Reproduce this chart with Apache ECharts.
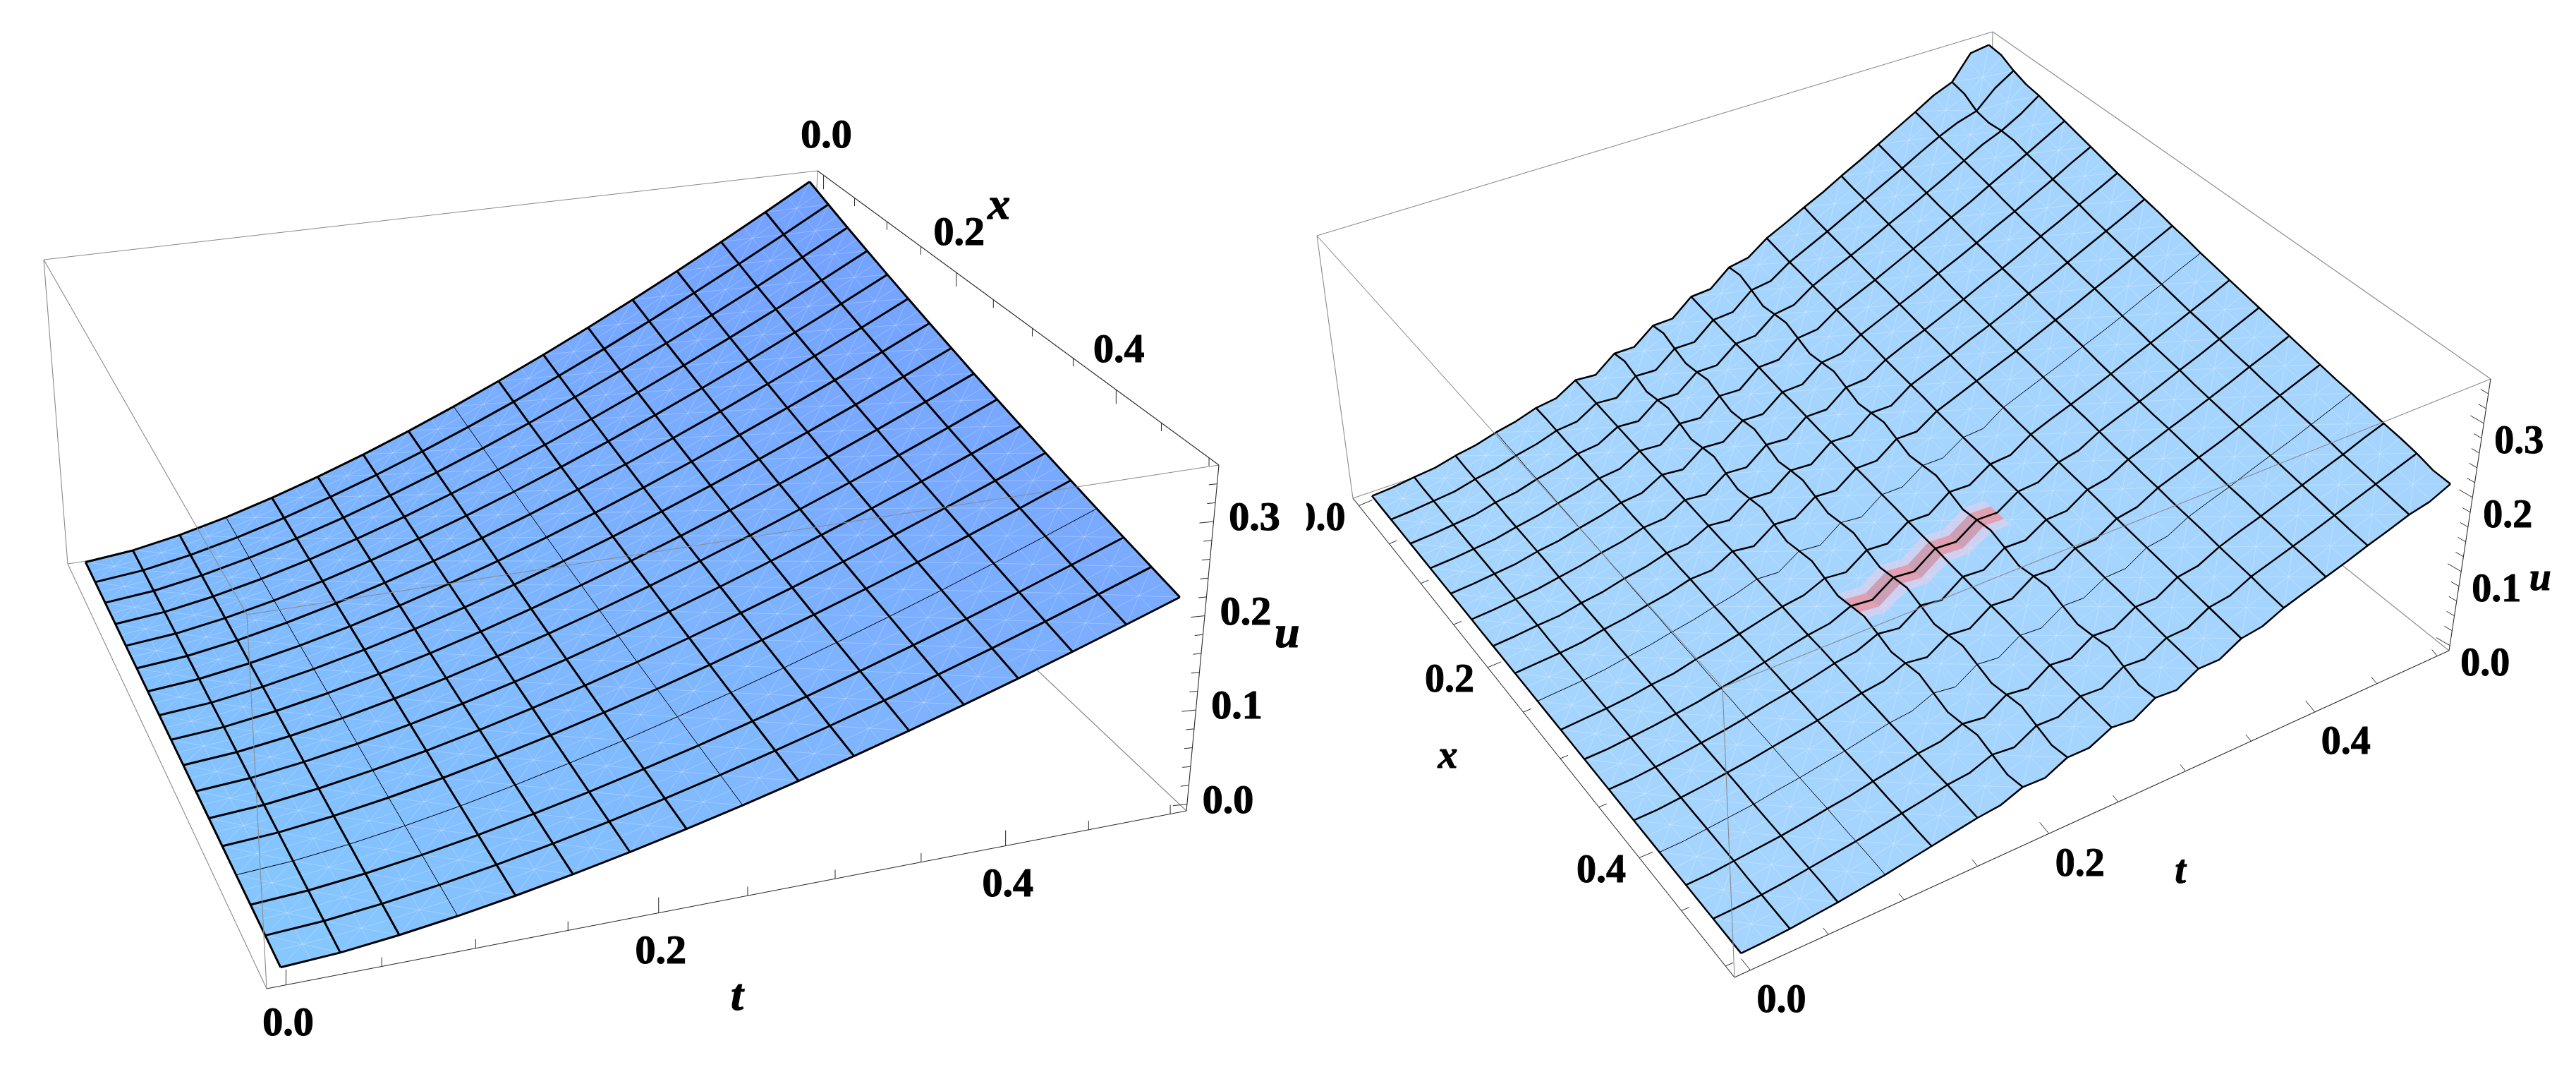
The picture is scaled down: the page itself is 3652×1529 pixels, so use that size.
<!DOCTYPE html>
<html><head><meta charset="utf-8">
<style>html,body{margin:0;padding:0;background:#fff}#c{width:3652px;height:1529px}</style>
<script src="https://cdn.jsdelivr.net/npm/echarts@6/dist/echarts.min.js"></script>
</head><body><div id="c"></div>
<script>
// ---- values (u in thousandths; rows: t index, columns: x index) ----
const tickLabelsT = ["0.0","0.2","0.4"];
const tickLabelsX = ["0.0","0.2","0.4"];
const tickLabelsU = ["0.0","0.1","0.2","0.3"];
const exactU = [
[0,0,0,0,0,0,0,0,0,0,0,0,0,0,0,0,0],
[5.5,5.4,5.2,5.0,4.9,4.7,4.6,4.4,4.3,4.2,4.0,3.9,3.8,3.7,3.6,3.5,3.3],
[15.6,15.1,14.7,14.2,13.8,13.4,13.0,12.6,12.2,11.8,11.4,11.1,10.7,10.4,10.1,9.8,9.5],
[28.7,27.8,27.0,26.1,25.3,24.6,23.8,23.1,22.4,21.7,21.0,20.4,19.7,19.1,18.5,18.0,17.4],
[44.2,42.8,41.5,40.2,39.0,37.8,36.6,35.5,34.4,33.4,32.3,31.3,30.4,29.4,28.5,27.7,26.8],
[61.8,59.9,58.0,56.2,54.5,52.8,51.2,49.6,48.1,46.6,45.2,43.8,42.5,41.1,39.9,38.7,37.5],
[81.2,78.7,76.3,73.9,71.6,69.4,67.3,65.2,63.2,61.3,59.4,57.6,55.8,54.1,52.4,50.8,49.2],
[102.3,99.2,96.1,93.2,90.3,87.5,84.8,82.2,79.7,77.2,74.9,72.5,70.3,68.1,66.1,64.0,62.1],
[125,121.2,117.4,113.8,110.3,106.9,103.6,100.4,97.4,94.4,91.5,88.6,85.9,83.3,80.7,78.2,75.8],
[149.2,144.6,140.1,135.8,131.6,127.6,123.7,119.8,116.2,112.6,109.1,105.8,102.5,99.4,96.3,93.3,90.5],
[174.7,169.3,164.1,159.1,154.2,149.4,144.8,140.4,136.0,131.9,127.8,123.9,120.1,116.4,112.8,109.3,105.9],
[201.6,195.3,189.3,183.5,177.9,172.4,167.1,161.9,157.0,152.1,147.5,142.9,138.5,134.3,130.1,126.1,122.2],
[229.6,222.6,215.7,209.1,202.7,196.4,190.4,184.5,178.8,173.3,168.0,162.8,157.8,153.0,148.3,143.7,139.3],
[258.9,251.0,243.2,235.8,228.5,221.5,214.7,208.1,201.7,195.4,189.4,183.6,178.0,172.5,167.2,162.0,157.0],
[289.4,280.5,271.8,263.5,255.4,247.5,239.9,232.5,225.4,218.4,211.7,205.2,198.9,192.8,186.8,181.1,175.5],
[321.0,311.1,301.5,292.2,283.2,274.5,266.1,257.9,250.0,242.3,234.8,227.6,220.6,213.8,207.2,200.9,194.7],
[353.6,342.7,332.1,321.9,312.0,302.4,293.1,284.1,275.3,266.9,258.7,250.7,243.0,235.5,228.3,221.3,214.4]
];
const numericU = [
[0,0,0,0,0,0,0,0,0,0,0,0,0,0,0,0,0,0,0,0,0,0,0,0,0,0,0,0,0,0,0,0,0],
[2,2,2,2,2,2,2,2,2,2,2,2,2,2,2,2,2,2,2,2,1,1,1,1,1,1,1,1,1,1,1,1,1],
[6,5,5,5,5,5,5,5,5,5,5,5,5,4,4,4,4,4,4,4,4,4,4,4,4,4,4,4,4,3,3,3,3],
[9,8,8,8,8,8,8,8,8,8,8,8,7,7,7,7,7,7,7,7,7,7,7,7,7,7,7,7,7,6,6,6,6],
[16,15,15,15,15,14,14,14,14,14,13,13,13,13,13,12,12,12,12,12,11,11,11,11,11,11,10,10,10,10,10,10,9],
[21,20,20,20,19,19,19,19,18,18,18,17,17,17,17,16,16,16,15,15,15,15,15,15,15,15,15,14,14,14,14,13,13],
[29,28,28,27,27,27,26,26,25,25,25,24,24,23,23,23,22,22,22,21,21,21,20,20,20,19,19,19,19,18,18,18,17],
[35,35,34,34,33,32,32,31,31,30,30,29,29,29,28,28,27,27,27,27,26,26,26,25,25,24,24,24,23,23,23,22,22],
[44,44,43,42,42,41,40,40,39,38,38,37,37,36,36,35,34,34,33,33,32,32,31,31,30,30,29,29,29,28,28,27,27],
[48,47,46,45,45,44,43,42,42,41,40,39,39,38,37,38,40,40,40,39,39,38,37,37,36,36,35,35,34,33,33,32,32],
[64,63,62,61,60,59,58,57,57,56,55,54,53,52,52,51,49,48,47,46,45,45,44,43,42,42,41,41,40,39,39,38,37],
[62,61,60,59,58,57,56,55,54,53,52,51,50,49,48,47,47,52,51,50,49,48,48,47,46,45,44,44,43,42,42,41,40],
[83,87,81,74,78,82,76,70,74,78,71,65,69,73,67,61,65,69,63,57,61,65,60,54,58,62,56,50,54,59,53,47,51],
[83,81,80,78,77,76,74,73,72,70,69,68,67,66,65,63,62,61,60,59,58,57,56,55,54,53,52,51,50,49,50,50,50],
[104,108,101,95,98,102,95,89,92,96,90,83,87,90,84,78,82,85,79,73,77,81,75,68,72,76,70,64,68,72,66,60,64],
[105,103,101,99,98,96,94,93,91,90,88,87,85,84,82,81,79,78,77,75,74,73,71,70,69,68,67,65,64,65,65,65,64],
[127,125,123,121,119,118,116,114,112,111,109,107,106,104,102,101,99,98,96,95,94,92,91,89,88,87,85,84,83,81,80,79,78],
[129,127,125,123,121,119,117,115,113,111,109,107,105,104,102,100,99,97,95,94,92,91,89,88,86,85,83,82,80,79,78,76,75],
[151,154,147,139,142,145,138,131,134,137,130,123,126,129,122,115,118,121,115,108,111,114,108,101,105,108,101,95,98,102,95,89,92],
[156,153,151,148,146,144,141,139,137,135,132,130,126,124,122,120,118,116,114,112,110,109,107,105,103,101,100,98,96,95,93,92,90],
[175,172,169,167,164,162,159,157,154,152,149,147,145,143,140,138,136,134,132,130,128,126,124,122,120,118,116,115,113,111,109,108,106],
[188,185,182,179,177,174,171,169,166,163,161,158,156,153,151,148,138,136,134,132,130,127,125,123,121,119,117,115,113,111,110,108,106],
[202,198,195,192,189,186,183,181,178,175,172,170,167,164,162,159,157,154,152,150,147,145,143,141,138,136,134,132,130,128,126,124,122],
[215,212,209,206,202,199,196,193,190,187,184,181,179,176,173,170,168,165,163,160,153,150,148,145,143,141,138,136,134,132,130,128,126],
[230,226,223,219,216,212,209,206,203,199,196,193,190,187,184,182,179,176,173,171,168,165,163,160,158,155,153,151,148,146,144,141,139],
[244,240,237,233,229,226,222,219,215,212,209,206,202,199,196,193,190,187,184,181,179,176,173,170,168,165,163,160,158,155,153,150,148],
[259,255,251,247,243,239,236,232,228,225,221,218,215,211,208,205,202,198,195,192,189,186,184,181,178,175,172,170,167,165,162,160,157],
[274,270,266,261,257,253,249,246,242,238,234,231,227,224,220,217,213,210,207,204,200,197,194,191,188,185,183,180,177,174,171,169,166],
[289,285,280,276,272,268,264,259,255,251,248,244,240,236,233,229,225,222,218,215,212,208,205,202,199,196,193,190,187,184,181,178,176],
[305,300,292,289,287,282,278,273,269,265,261,257,253,249,245,241,238,234,230,227,223,220,216,213,210,206,203,200,197,194,191,188,185],
[316,312,300,296,298,297,292,288,283,279,275,270,266,262,258,254,250,246,242,239,235,231,228,224,221,217,214,211,207,204,201,198,195],
[350,344,325,312,313,312,307,302,298,293,288,284,279,275,271,267,263,258,254,250,247,243,239,235,232,228,225,221,218,214,211,205,201],
[354,352,342,335,332,327,322,317,312,307,302,298,293,289,284,280,275,271,267,263,259,255,251,247,243,239,236,232,228,225,221,215,214]
];
const tMajorTicks = [0,0.2,0.4];
const tMinorTicks = [0.05,0.1,0.15,0.25,0.3,0.35,0.45,0.5];
const uMajorTicks = [0,0.1,0.2,0.3];
const uMinorTicks = [0.02,0.04,0.06,0.08,0.12,0.14,0.16,0.18,0.22,0.24,0.26,0.28,0.32,0.34];
const redRidgeRows = [12,13,14,15,16,17,18,19];
const redRidgeColumn = 20;

// ---- layout of the two boxes on the page ----
const SPAN = [-0.01,0.51], USPAN = [-0.007,0.36], UNIT = 1000;
const leftBox = {
  top:{A:[62,368],B:[1159,242],C:[1728,659],D:[350,871]},
  bot:{A:[96,799],B:[1144,642],C:[1682,1149],D:[378,1401]}
};
const rightBox = {
  top:{A:[1867,334],B:[2825,45],C:[3531,537],D:[2442,974]},
  bot:{A:[1918,706],B:[2819,400],C:[3472,922],D:[2459,1385]}
};
function homography(q){
  const [x0,y0]=q.A,[x1,y1]=q.B,[x2,y2]=q.C,[x3,y3]=q.D;
  const dx1=x1-x2,dx2=x3-x2,sx=x0-x1+x2-x3,dy1=y1-y2,dy2=y3-y2,sy=y0-y1+y2-y3;
  const det=dx1*dy2-dx2*dy1,g=(sx*dy2-dx2*sy)/det,h=(dx1*sy-sx*dy1)/det;
  const a=x1-x0+g*x1,b=x3-x0+h*x3,d=y1-y0+g*y1,e=y3-y0+h*y3;
  return (p,r)=>{const w=g*p+h*r+1;return [(a*p+b*r+x0)/w,(d*p+e*r+y0)/w];};
}
function camera(box){
  const ht=homography(box.top),hb=homography(box.bot);
  return (t,x,u)=>{
    const p=(t-SPAN[0])/(SPAN[1]-SPAN[0]),r=(x-SPAN[0])/(SPAN[1]-SPAN[0]),s=(u-USPAN[0])/(USPAN[1]-USPAN[0]);
    const T=ht(p,r),B=hb(p,r);
    return [B[0]*(1-s)+T[0]*s,B[1]*(1-s)+T[1]*s];
  };
}
function custom(name,items,z){
  return {type:'custom',name,coordinateSystem:'cartesian2d',silent:true,clip:false,animation:false,progressive:0,z,
    data:items.map((_,i)=>[i,0]),encode:{x:0,y:1},
    renderItem(params,api){
      const it=items[params.dataIndex];
      if(it.text!==undefined){
        const c=api.coord(it.at);
        const el={type:'text',silent:true,style:{text:it.text,x:c[0]+it.dx,y:c[1]+it.dy,fill:'#000',
          stroke:'#000',lineWidth:it.bold||1,font:it.font,align:'center',verticalAlign:'middle'}};
        if(it.clip) el.clipPath={type:'rect',shape:it.clip};
        return el;
      }
      const pts=it.pts.map(p=>api.coord(p));
      return {type:it.fill?'polygon':'polyline',silent:true,shape:{points:pts},
        style:it.fill?{fill:it.fill,stroke:it.stroke||it.fill,lineWidth:it.lw===undefined?0.8:it.lw}
                     :{fill:null,stroke:it.stroke,lineWidth:it.lw,lineJoin:'round'}};
    }};
}
function buildPlot(cfg){
  const cam=camera(cfg.box),G=cfg.grid,N=G.length-1,st=0.5/N,stepM=N/16;
  const P=(i,j)=>cam(i*st,j*st,G[i][j]/UNIT);
  const grey='#8a8a8a',dark='#2a2a2a';
  const lo=SPAN[0],hi=SPAN[1],uL=USPAN[0],uH=USPAN[1];
  const C=(a,b,c)=>cam(a?hi:lo,b?hi:lo,c?uH:uL);
  const edge=(a,b,col,lw)=>({pts:[a,b],stroke:col,lw:lw||1.1});
  const back=[edge(C(0,0,0),C(1,0,0),grey),edge(C(1,0,0),C(1,1,0),grey),edge(C(1,0,0),C(1,0,1),grey)];
  const fills=[];
  for(let i=0;i<N;i++)for(let j=0;j<N;j++){
    fills.push({pts:[P(i,j),P(i+1,j),P(i+1,j+1),P(i,j+1)],fill:cfg.color(i/N,j/N)});
  }
  const tex=[];
  const avg=(i,j)=>{
    const a=P(i,j),b=P(i+stepM,j),c=P(i+stepM,j+stepM),d=P(i,j+stepM);
    return [(a[0]+b[0]+c[0]+d[0])/4,(a[1]+b[1]+c[1]+d[1])/4];
  };
  for(let i=0;i<N;i+=stepM)for(let j=0;j<N;j+=stepM){
    const m=avg(i,j),a=P(i,j),b=P(i+stepM,j),c=P(i+stepM,j+stepM),d=P(i,j+stepM);
    const mid=(p,q)=>[(p[0]+q[0])/2,(p[1]+q[1])/2];
    tex.push({pts:[m,a,m,mid(a,b),m,b,m,mid(b,c),m,c,m,mid(c,d),m,d,m,mid(d,a),m],stroke:'rgba(255,255,255,0.13)',lw:1});
  }
  const mesh=[];
  for(let k=0;k<=16;k++){
    const tPts=[],xPts=[];
    for(let m=0;m<=N;m++){tPts.push(P(k*stepM,m));xPts.push(P(m,k*stepM));}
    const edgeLine=(k===0||k===16);
    mesh.push({pts:tPts,stroke:'#000',lw:edgeLine?cfg.lw:(cfg.thinT.includes(k)?1:cfg.lw)});
    mesh.push({pts:xPts,stroke:'#000',lw:edgeLine?cfg.lw:(cfg.thinX.includes(k)?1:cfg.lw)});
  }
  const front=[edge(C(0,0,1),C(1,0,1),grey),edge(C(1,1,1),C(0,1,1),grey),edge(C(0,0,1),C(0,1,1),grey),
    edge(C(0,0,1),C(0,0,0),grey),edge(C(0,1,1),C(0,1,0),grey)];
  const axes=[edge(C(0,1,0),C(1,1,0),dark),edge(C(1,1,0),C(1,1,1),dark)];
  if(cfg.xOnTop){axes.push(edge(C(1,0,1),C(1,1,1),dark));front.push(edge(C(0,0,0),C(0,1,0),grey));}
  else{axes.push(edge(C(0,0,0),C(0,1,0),dark));front.push(edge(C(1,0,1),C(1,1,1),grey));}
  const tick=(v0,d)=>({pts:[v0,[v0[0]+d[0],v0[1]+d[1]]],stroke:dark,lw:1});
  const ticks=[];
  const scale=(d,f)=>[d[0]*f,d[1]*f];
  const posT=t=>cam(t,hi,uL), posX=x=>cfg.xOnTop?cam(hi,x,uH):cam(lo,x,uL), posU=u=>cam(hi,hi,u);
  tMajorTicks.forEach(v=>ticks.push(tick(posT(v),cfg.tickT)));
  tMinorTicks.forEach(v=>ticks.push(tick(posT(v),scale(cfg.tickT,0.58))));
  tMajorTicks.forEach(v=>ticks.push(tick(posX(v),cfg.tickX)));
  tMinorTicks.forEach(v=>ticks.push(tick(posX(v),scale(cfg.tickX,0.58))));
  uMajorTicks.forEach(v=>ticks.push(tick(posU(v),cfg.tickU)));
  uMinorTicks.forEach(v=>ticks.push(tick(posU(v),scale(cfg.tickU,0.58))));
  const labels=[];
  const F=cfg.font, FI=cfg.fontI, B=cfg.bold;
  tickLabelsT.forEach((s,k)=>labels.push({text:s,at:posT(tMajorTicks[k]),dx:cfg.offT[0],dy:cfg.offT[1],font:F,bold:B}));
  tickLabelsX.forEach((s,k)=>labels.push({text:s,at:posX(tMajorTicks[k]),dx:cfg.offX[0],dy:cfg.offX[1],font:F,bold:B,clip:k===0?cfg.clipX0:null}));
  tickLabelsU.forEach((s,k)=>labels.push({text:s,at:posU(uMajorTicks[k]),dx:cfg.offU[0],dy:cfg.offU[1],font:F,bold:B}));
  labels.push({text:'t',at:posT(0.25),dx:cfg.nameT[0],dy:cfg.nameT[1],font:FI,bold:B});
  labels.push({text:'x',at:posX(0.25),dx:cfg.nameX[0],dy:cfg.nameX[1],font:FI,bold:B});
  labels.push({text:'u',at:posU(0.15),dx:cfg.nameU[0],dy:cfg.nameU[1],font:FI,bold:B});
  const out=[custom(cfg.name+' back',back,1),custom(cfg.name+' surface',fills,2),custom(cfg.name+' facets',tex,3)];
  if(cfg.ridge){
    const halo=[],core=[];
    const Q=(i,jf)=>{const j=redRidgeColumn;return cam(i*st,jf*st,G[i][j]/UNIT);};
    redRidgeRows.slice(0,-1).forEach((i,k)=>{
      halo.push({pts:[Q(i,redRidgeColumn-0.95),Q(i+1,redRidgeColumn-0.95),Q(i+1,redRidgeColumn+0.95),Q(i,redRidgeColumn+0.95)],fill:'rgba(255,205,225,0.45)',lw:0});
      core.push({pts:[Q(i,redRidgeColumn-0.5),Q(i+1,redRidgeColumn-0.5),Q(i+1,redRidgeColumn+0.5),Q(i,redRidgeColumn+0.5)],
        fill:k%2?'rgba(205,125,140,0.6)':'rgba(240,120,125,0.55)',lw:0});
    });
    out.push(custom(cfg.name+' ridge halo',halo,4),custom(cfg.name+' ridge',core,5));
  }
  out.push(custom(cfg.name+' mesh',mesh,6),custom(cfg.name+' box',front,7),custom(cfg.name+' axes',axes,8),
    custom(cfg.name+' ticks',ticks,8),custom(cfg.name+' labels',labels,9));
  return out;
}
const mix=(a,b,f)=>Math.round(a+(b-a)*f);
const series=[
 ...buildPlot({name:'exact',box:leftBox,grid:exactU,lw:3,thinT:[3,8],thinX:[13],xOnTop:true,
   color:(p,q)=>`rgb(${mix(mix(128,135,q),mix(115,122,q),p)},${mix(mix(187,200,q),mix(160,170,q),p)},255)`,
   tickT:[0,-22],tickX:[0,20],tickU:[-20,2],offT:[3,56],offX:[4,-54],offU:[58,-3],
   nameT:[-15,145],nameX:[8,-131],nameU:[123,-39],bold:1.2,
   font:'bold 58px "Liberation Serif"',fontI:'italic bold 64px "Liberation Serif"'}),
 ...buildPlot({name:'numerical',box:rightBox,grid:numericU,lw:2.5,thinT:[3],thinX:[8,13],xOnTop:false,ridge:true,bold:1,
   color:()=>'#a5d5ff',
   tickT:[-13,-16],tickX:[19,-8],tickU:[-19,-11],offT:[44,45],offX:[-54,20],offU:[50,28],
   nameT:[88,100],nameX:[-107,64],nameU:[104,64],clipX0:{x:1852,y:680,width:200,height:110},
   font:'bold 56px "Liberation Serif"',fontI:'italic bold 56px "Liberation Serif"'})
];
const chart=echarts.init(document.getElementById('c'),null,{renderer:'canvas',width:3652,height:1529});
chart.setOption({animation:false,backgroundColor:'#fff',
  grid:{left:0,right:0,top:0,bottom:0},
  xAxis:{type:'value',min:0,max:3652,show:false},
  yAxis:{type:'value',min:0,max:1529,inverse:true,show:false},
  series});
</script></body></html>
